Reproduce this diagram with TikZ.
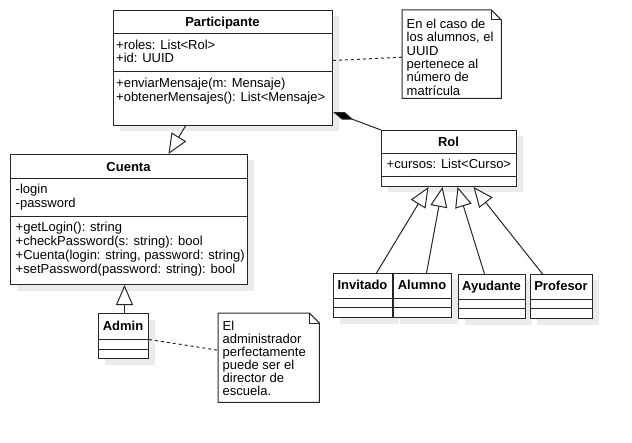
\documentclass[tikz,border=0pt]{standalone}
\usepackage{fontspec}
\setmainfont{Liberation Sans}
\usetikzlibrary{arrows.meta,shadows}
\newcommand\umlfont{\fontsize{13bp}{14bp}\selectfont}
\begin{document}
\begin{tikzpicture}[x=1bp,y=-1bp,
  cls/.style={draw=black!85, line width=1bp, fill=white, rectangle, anchor=north west, inner sep=0,
    general shadow={fill=black!8, shadow xshift=6bp, shadow yshift=-6bp}},
  notebox/.style={rectangle, anchor=north west, inner sep=0},
  divider/.style={draw=black!85, line width=1bp},
  txt/.style={anchor=base west, inner sep=0, font=\umlfont},
  ttl/.style={anchor=base, inner sep=0, font=\umlfont\bfseries},
  gen/.style={draw=black!85, line width=1bp, -{Triangle[open, length=20bp, width=17bp, fill=white]}},
  comp/.style={draw=black!85, line width=1bp, -{Diamond[length=22bp, width=8bp, fill=black]}},
  noteline/.style={draw=black!85, line width=1bp, dash pattern=on 3bp off 3bp},
]
\useasboundingbox (0,0) rectangle (632,443);
\fill[white] (0,0) rectangle (632,443);

% ---------- Participante ----------
\node[cls, minimum width=219bp, minimum height=115bp] (part) at (113,10) {};
\draw[divider] (part.west |- 0,34) -- (part.east |- 0,34);
\draw[divider] (part.west |- 0,72) -- (part.east |- 0,72);
\node[ttl] (partT) at (222.5,27) {Participante};
\node[txt] (partA1) at (116,49.5) {+roles: List<Rol>};
\node[txt] (partA2) at (116,63) {+id: UUID};
\node[txt] (partM1) at (116,88) {+enviarMensaje(m: Mensaje)};
\node[txt] (partM2) at (116,101.7) {+obtenerMensajes(): List<Mensaje>};

% ---------- Cuenta ----------
\node[cls, minimum width=237bp, minimum height=130bp] (cuenta) at (10,154) {};
\draw[divider] (cuenta.west |- 0,179) -- (cuenta.east |- 0,179);
\draw[divider] (cuenta.west |- 0,217) -- (cuenta.east |- 0,217);
\node[ttl] (cuentaT) at (128.5,171.7) {Cuenta};
\node[txt] (cuentaA1) at (15.5,193.3) {-login};
\node[txt] (cuentaA2) at (15.5,207.3) {-password};
\node[txt] (cuentaM1) at (15.5,232) {+getLogin(): string};
\node[txt] (cuentaM2) at (15.5,246) {+checkPassword(s: string): bool};
\node[txt] (cuentaM3) at (15.5,260) {+Cuenta(login: string, password: string)};
\node[txt] (cuentaM4) at (15.5,274) {+setPassword(password: string): bool};

% ---------- Rol ----------
\node[cls, minimum width=135bp, minimum height=56bp] (rol) at (381,130) {};
\draw[divider] (rol.west |- 0,154) -- (rol.east |- 0,154);
\draw[divider] (rol.west |- 0,177) -- (rol.east |- 0,177);
\node[ttl] (rolT) at (448.5,146.7) {Rol};
\node[txt] (rolA1) at (386.5,168.7) {+cursos: List<Curso>};

% ---------- Rol subclasses ----------
\node[cls, minimum width=59bp, minimum height=44bp] (invitado) at (333,273) {};
\draw[divider] (invitado.west |- 0,298) -- (invitado.east |- 0,298);
\draw[divider] (invitado.west |- 0,307) -- (invitado.east |- 0,307);
\node[ttl] (invitadoT) at (362.5,290) {Invitado};

\node[cls, minimum width=58bp, minimum height=44bp] (alumno) at (393,273) {};
\draw[divider] (alumno.west |- 0,298) -- (alumno.east |- 0,298);
\draw[divider] (alumno.west |- 0,307) -- (alumno.east |- 0,307);
\node[ttl] (alumnoT) at (422,290) {Alumno};

\node[cls, minimum width=67bp, minimum height=44bp] (ayudante) at (458,274) {};
\draw[divider] (ayudante.west |- 0,299) -- (ayudante.east |- 0,299);
\draw[divider] (ayudante.west |- 0,308) -- (ayudante.east |- 0,308);
\node[ttl] (ayudanteT) at (491.5,291) {Ayudante};

\node[cls, minimum width=62bp, minimum height=44bp] (profesor) at (530,274) {};
\draw[divider] (profesor.west |- 0,299) -- (profesor.east |- 0,299);
\draw[divider] (profesor.west |- 0,308) -- (profesor.east |- 0,308);
\node[ttl] (profesorT) at (561,291) {Profesor};

% ---------- Admin ----------
\node[cls, minimum width=50bp, minimum height=45bp] (admin) at (98,313) {};
\draw[divider] (admin.west |- 0,339) -- (admin.east |- 0,339);
\draw[divider] (admin.west |- 0,349) -- (admin.east |- 0,349);
\node[ttl] (adminT) at (123,330.7) {Admin};

% ---------- Notes ----------
\node[notebox, minimum width=99bp, minimum height=88bp] (note1) at (402,10) {};
\draw[divider, fill=white] (note1.north west) -- ([xshift=-10bp]note1.north east) -- ([yshift=-10bp]note1.north east) -- (note1.south east) -- (note1.south west) -- cycle;
\draw[divider] ([xshift=-10bp]note1.north east) -- ([xshift=-10bp,yshift=-10bp]note1.north east) -- ([yshift=-10bp]note1.north east);
\node[txt] (n1l1) at (406.5,28.3) {En el caso de};
\node[txt] (n1l2) at (406.5,41.7) {los alumnos, el};
\node[txt] (n1l3) at (406.5,55.1) {UUID};
\node[txt] (n1l4) at (406.5,68.5) {pertenece al};
\node[txt] (n1l5) at (406.5,81.9) {número de};
\node[txt] (n1l6) at (406.5,95.3) {matrícula};

\node[notebox, minimum width=101bp, minimum height=89bp] (note2) at (218,313) {};
\draw[divider, fill=white] (note2.north west) -- ([xshift=-10bp]note2.north east) -- ([yshift=-10bp]note2.north east) -- (note2.south east) -- (note2.south west) -- cycle;
\draw[divider] ([xshift=-10bp]note2.north east) -- ([xshift=-10bp,yshift=-10bp]note2.north east) -- ([yshift=-10bp]note2.north east);
\node[txt] (n2l1) at (222.5,330) {El};
\node[txt] (n2l2) at (222.5,343) {administrador};
\node[txt] (n2l3) at (222.5,356) {perfectamente};
\node[txt] (n2l4) at (222.5,369) {puede ser el};
\node[txt] (n2l5) at (222.5,382) {director de};
\node[txt] (n2l6) at (222.5,395) {escuela.};

% ---------- Connectors ----------
\draw[gen] ([xshift=-37.5bp]part.south) -- ([xshift=39.5bp]cuenta.north);
\draw[gen] ([xshift=1bp]admin.north) -- ([xshift=1bp]admin.north |- cuenta.south);
\draw[gen] ([xshift=13.5bp]invitado.north) -- ([xshift=-20.5bp]rol.south);
\draw[gen] ([xshift=4bp]alumno.north) -- ([xshift=-6.5bp]rol.south);
\draw[gen] ([xshift=-7.5bp]ayudante.north) -- ([xshift=8.5bp]rol.south);
\draw[gen] ([xshift=-19bp]profesor.north) -- ([xshift=24.5bp]rol.south);
\draw[comp] (rol.north west) -- ([yshift=14bp]part.south east);
\draw[noteline] ([yshift=7.5bp]part.east) -- ([yshift=-3bp]note1.west);
\draw[noteline] ([yshift=-3.5bp]admin.east) -- ([yshift=7.5bp]note2.west);
\end{tikzpicture}
\end{document}
